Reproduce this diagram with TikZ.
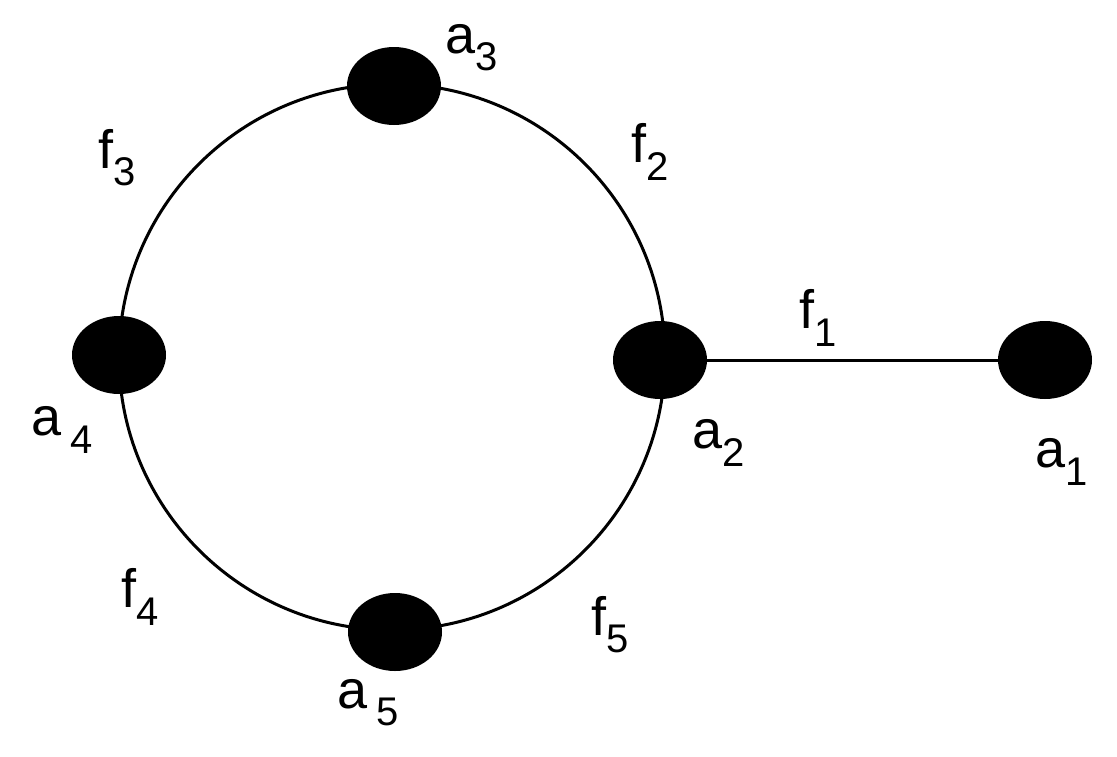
\documentclass[tikz,border=0pt]{standalone}
\usepackage{fontspec}
\setmainfont{Liberation Sans}
\usetikzlibrary{shapes.geometric}
\newcommand{\lab}[2]{#1\raisebox{-0.32em}{\fontsize{40}{40}\selectfont #2}}
\begin{document}
\begin{tikzpicture}[x=1pt,y=-1pt,
  dot/.style={ellipse,fill=black,minimum width=94pt,minimum height=78pt,inner sep=0pt},
  txt/.style={font=\fontsize{54}{54}\selectfont,inner sep=0pt}]
\useasboundingbox (0,0) rectangle (1117,756);
\node[circle,draw,line width=3pt,minimum size=546pt,inner sep=0pt] (c) at (392,357) {};
\node[dot] (a3) at (394,86) {};
\node[dot] (a4) at (119,355) {};
\node[dot] (a2) at (660,360) {};
\node[dot] (a5) at (395,632) {};
\node[dot] (a1) at (1045,360) {};
\draw[line width=3pt] (a2) -- (a1);
\node[txt] (la3) at (472,48) {\lab{a}{3}};
\node[txt] (lf2) at (650,152) {\lab{f}{2}};
\node[txt] (lf3) at (117,158) {\lab{f}{3}};
\node[txt] (lf1) at (818,318) {\lab{f}{1}};
\node[txt] (la4) at (62,430) {\lab{a\,}{4}};
\node[txt] (la2) at (719,443) {\lab{a}{2}};
\node[txt] (la1) at (1062,462) {\lab{a}{1}};
\node[txt] (lf4) at (140,597) {\lab{f}{4}};
\node[txt] (lf5) at (610,625) {\lab{f}{5}};
\node[txt] (la5) at (368,703) {\lab{a\,}{5}};
\end{tikzpicture}
\end{document}
